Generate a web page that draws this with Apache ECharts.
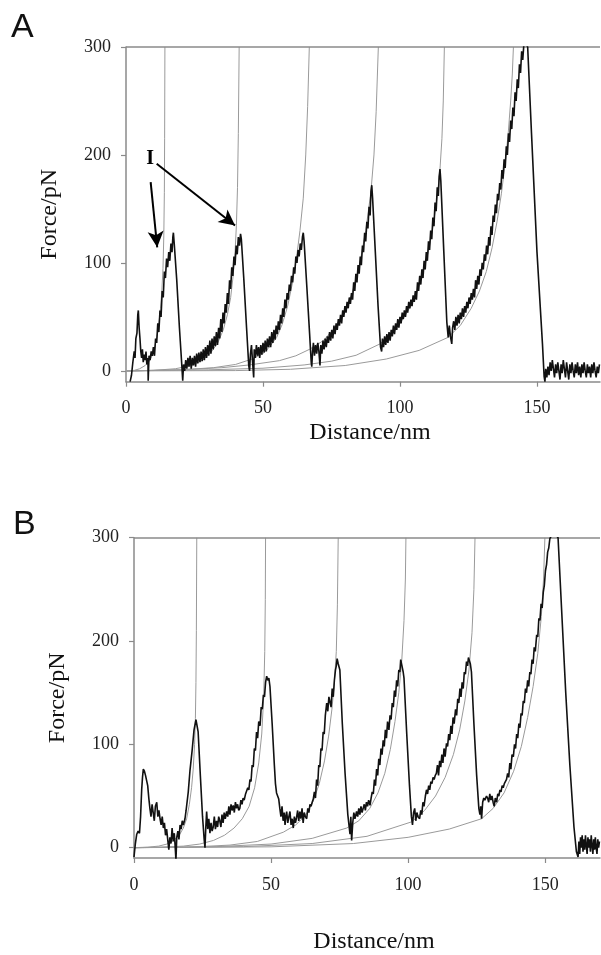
<!DOCTYPE html>
<html><head><meta charset="utf-8">
<script src="https://cdn.jsdelivr.net/npm/echarts@6/dist/echarts.min.js"></script>
<style>html,body{margin:0;padding:0;background:#fff}#c{width:601px;height:955px}</style>
</head><body><div id="c"></div>
<script>
// ---------- shared tick labels ----------
const xTicks = [0, 50, 100, 150];
const yTicks = [0, 100, 200, 300];

// ---------- Panel A data ----------
const traceA = [
[1.5,-10],[2,-4],[2.5,8],[3,18],[3.3,12],[3.6,30],[4,35],[4.3,52],[4.5,56],[4.8,40],[5.1,30],[5.4,18],[5.7,12],[6,20],[6.3,8],[6.6,15],[7,10],[7.3,18],[7.6,6],[8,12],[8.1,-9],[8.4,14],[8.8,10],[9.2,18],[9.6,14],
[10,22],[10.4,14],[10.8,30],[11.2,26],[11.6,44],[12,36],[12.4,56],[12.8,50],[13.2,74],[13.6,68],[14,92],[14.4,86],[14.8,104],[15.2,96],[15.6,110],[16,102],[16.4,118],[16.8,110],[17.1,124],[17.3,128],[17.6,118],
[18.5,85],[19.5,40],[20.3,8],[20.7,-9],[21,6],[21.4,0],[21.8,10],[22.2,2],[22.6,12],[23,4],[23.4,14],[23.8,2],[24.2,12],[24.6,5],[25,14],[25.4,4],[25.8,16],[26.2,7],[26.6,17],[27,8],[27.4,18],[27.8,9],[28.2,20],[28.6,10],[29,22],[29.4,12],[29.8,24],[30.2,14],[30.6,28],[31,16],[31.4,30],[31.8,20],[32.2,32],[32.6,23],
[33,36],[33.4,24],[33.8,40],[34.2,30],[34.6,48],[35,36],[35.4,54],[35.8,44],[36.2,62],[36.6,54],[37,72],[37.4,62],[37.8,84],[38.2,76],[38.6,96],[39,88],[39.4,106],[39.8,98],[40.2,116],[40.6,108],[41,124],[41.4,116],[41.8,127],[42.1,122],
[43,85],[44,40],[44.8,5],[45.1,0],[45.4,15],[45.8,24],[46.2,8],[46.6,-6],[46.8,20],[47.2,12],[47.6,24],[48,14],[48.4,22],[48.8,12],[49.2,24],[49.6,15],[50,26],[50.4,17],[50.8,28],[51.2,18],[51.6,30],[52,22],
[52.4,32],[52.8,22],[53.2,36],[53.6,26],[54,38],[54.4,29],[54.8,42],[55.2,34],[55.6,46],[56,38],[56.4,52],[56.8,44],[57.2,58],[57.6,50],[58,66],[58.4,58],[58.8,72],[59.2,66],[59.6,80],[60,74],[60.4,88],[60.8,82],[61.2,96],[61.6,90],[62,106],[62.4,100],[62.8,112],[63.2,106],[63.6,118],[64,112],[64.4,124],[64.7,128],[65,120],
[66,78],[67,35],[67.6,8],[67.8,4],[68.1,18],[68.4,26],[68.8,14],[69.2,24],[69.6,16],[70,26],[70.4,18],[70.8,5],[71.1,24],[71.5,16],[71.9,28],[72.3,20],[72.7,30],[73.1,22],[73.5,32],[73.9,26],[74.3,36],[74.7,28],[75.1,38],[75.5,30],[75.9,42],[76.3,34],[76.7,44],[77.1,38],[77.5,48],[77.9,42],[78.3,52],[78.7,44],[79.1,56],[79.5,50],[79.9,60],[80.3,54],[80.7,64],[81.1,58],[81.5,68],[81.9,62],
[82.3,72],[82.7,66],[83.1,82],[83.5,74],[83.9,90],[84.3,82],[84.7,98],[85.1,90],[85.5,106],[85.9,98],[86.3,116],[86.7,110],[87.1,128],[87.5,120],[87.9,138],[88.3,132],[88.7,152],[89.1,144],[89.4,166],[89.7,172],[90,160],
[91,110],[92,60],[92.9,22],[93.3,18],[93.6,30],[94,22],[94.4,32],[94.8,24],[95.2,34],[95.6,26],[96,36],[96.4,28],[96.8,38],[97.2,32],[97.6,42],[98,34],[98.4,44],[98.8,38],[99.2,48],[99.6,40],[100,50],[100.4,44],[100.8,54],[101.2,48],[101.6,56],[102,50],[102.4,60],[102.8,54],[103.2,64],[103.6,58],[104,66],[104.4,60],[104.8,70],[105.2,64],
[105.6,74],[106,66],[106.4,82],[106.8,74],[107.2,88],[107.6,80],[108,94],[108.4,86],[108.8,102],[109.2,94],[109.6,110],[110,102],[110.4,120],[110.8,112],[111.2,130],[111.6,122],[112,142],[112.4,134],[112.8,156],[113.2,148],[113.6,170],[114,162],[114.3,180],[114.6,187],[114.9,176],
[116,110],[117.1,45],[117.6,31],[118,42],[118.4,32],[118.9,25],[119.2,40],[119.6,46],[120,38],[120.4,50],[120.8,42],[121.2,52],[121.6,44],[122,54],[122.4,48],[122.8,58],[123.2,50],[123.6,60],[124,54],[124.4,64],[124.8,58],[125.2,68],[125.6,62],[126,72],[126.4,66],
[126.8,76],[127.2,68],[127.6,84],[128,76],[128.4,88],[128.8,80],[129.2,94],[129.6,88],[130,100],[130.4,94],[130.8,108],[131.2,102],[131.6,116],[132,108],[132.4,124],[132.8,116],[133.2,134],[133.6,126],[134,144],[134.4,138],[134.8,154],[135.2,146],[135.6,164],[136,158],[136.4,174],[136.8,168],[137.2,186],[137.6,178],[138,196],[138.4,188],[138.8,208],[139.2,200],[139.6,220],[140,212],[140.4,232],[140.8,224],[141.2,244],[141.6,236],[142,258],[142.4,250],[142.8,270],[143.2,262],[143.6,284],[144,276],[144.4,296],[144.8,288],[145.2,302],[145.6,305],[146,306],[146.6,300],
[148,220],[150,110],[152,25],[152.6,-5],[152.9,-10],[153.2,2],[153.6,-6],[154,4],[154.4,-4],[154.8,8],[155.2,0],[155.6,10],[156,2],[156.4,-6],[156.8,6],[157.2,-2],[157.6,8],[158,0],[158.4,-8],[158.8,6],[159.2,-2],[159.6,10],[160,2],[160.4,-6],[160.8,8],[161.2,0],[161.6,-8],[162,6],[162.4,-2],[162.8,8],[163.2,0],[163.6,-6],[164,6],[164.4,-2],[164.8,8],[165.2,-4],[165.6,4],[166,-6],[166.4,6],[166.8,-2],[167.2,8],[167.6,0],[168,-6],[168.4,6],[168.8,-2],[169.2,4],[169.6,-6],[170,6],[170.4,-2],[170.8,8],[171.2,0],[171.6,-6],[172,4],[172.4,-2],[172.8,6]
];
const fitA1 = [[0,0],[3,0.5],[5,2],[7,5],[8.5,9],[9.5,14],[10.5,22],[11.3,32],[12,44],[12.6,58],[13.1,75],[13.5,95],[13.8,125],[14,165],[14.1,215],[14.2,300]];
const fitA2 = [[0,0],[10,0.5],[18,2],[24,5],[28,10],[31,17],[33.5,26],[35.5,38],[37,52],[38.2,68],[39.1,88],[39.8,110],[40.3,135],[40.7,170],[41,220],[41.3,300]];
const fitA3 = [[0,0],[20,1],[32,3],[40,6],[46,11],[50,16],[52,21],[55,31],[57,43],[59,60],[60.8,82],[62.3,106],[63.5,130],[64.7,160],[65.6,200],[66.3,245],[66.9,300]];
const fitA4 = [[0,0],[20,1],[35,3],[45,5.5],[56,9.5],[62,14],[67,20],[72,28],[76.3,40],[79.1,53],[82.3,70],[85.1,96],[87.5,130],[89.4,166],[90.5,200],[91.3,240],[92.1,300]];
const fitA5 = [[0,0],[30,1],[50,2.5],[65,5.5],[75,9],[84,14.5],[92.7,25],[97,34],[100,44],[103,56],[106,72],[108.5,92],[110.5,112],[112.2,136],[113.6,162],[114.6,187],[115.3,215],[115.8,250],[116.2,300]];
const fitA6 = [[0,0],[40,0.3],[60,1.5],[80,5],[95,11],[107,19],[117.5,31],[122,42],[126,58],[129,74],[131.5,92],[133.6,114],[135.4,138],[137,164],[138.4,192],[139.5,220],[140.4,250],[141,275],[141.4,300]];
const arrowsA = [[[9.0,174.8],[11.4,114.5]], [[11.2,191.9],[39.8,134.6]]];
const labelA = {text: 'I', at: [8.8, 196.8]};

// ---------- Panel B data ----------
const traceB = [
[0,-9],[0.5,4],[1,13],[1.5,16],[2,14],[2.4,30],[2.8,56],[3.1,68],[3.4,76],[3.8,74],[4.2,70],[4.6,71],[5,60],[5.4,48],[5.8,38],[6.2,30],[6.6,42],[7,34],[7.4,26],[7.8,40],[8.3,44],[8.7,30],[9.1,36],[9.5,28],[9.9,22],[10.3,30],[10.7,19],[11.1,24],[11.5,12],[11.9,18],[12.3,8],[12.7,-2],[13.1,10],[13.5,4],[13.9,19],[14.3,6],[14.7,14],[15,2],[15.3,-12],[15.6,10],[16,16],[16.4,8],[16.8,22],[17.2,18],[17.6,26],[18,22],
[18.6,28],[19,36],[19.4,36],[19.8,54],[20.1,54],[20.4,74],[20.8,74],[21.2,94],[21.6,94],[21.9,114],[22.2,114],[22.6,124],[23,118],[23.4,112],
[24.2,70],[25,30],[25.6,8],[25.9,0],[26.2,20],[26.5,35],[26.9,18],[27.3,28],[27.7,14],[28.1,24],[28.5,16],[28.9,20],[29.3,30],[29.7,18],[30.1,26],[30.5,20],[30.9,30],[31.3,26],[31.7,20],[32.1,32],[32.5,24],[32.9,34],[33.3,28],[33.8,35],[34.2,30],[34.6,40],[35,32],[35.4,42],[35.8,36],[36.2,41],[36.6,34],[37,44],[37.4,38],[37.8,42],[38.2,36],[38.6,38],[39,46],[39.4,42],[39.8,48],[40.2,46],[40.7,52],[41.1,53],[41.5,58],[41.9,56],
[42.3,66],[42.7,64],[43.1,80],[43.5,78],[43.9,96],[44.3,94],[44.7,112],[45.1,106],[45.5,122],[46,118],[46.4,136],[46.8,134],[47.2,148],[47.6,146],[48,160],[48.4,166],[48.8,162],[49.2,164],[49.6,156],
[50.4,120],[51.2,80],[51.6,62],[52,53],[52.4,50],[52.8,47],[53.2,38],[53.6,30],[54,40],[54.4,26],[54.8,34],[55.1,22],[55.4,30],[55.7,35],[56.1,24],[56.5,30],[56.9,35],[57.3,22],[57.7,28],[58.1,19],[58.5,30],[58.9,24],[59.3,29],[59.7,36],[60.1,26],[60.5,35],[60.9,28],[61.3,38],[61.7,24],[62.1,34],[62.5,30],[63,28],[63.4,38],[63.8,34],[64.2,42],[64.6,40],[65,44],[65.4,47],
[65.8,54],[66.2,48],[66.6,66],[67,60],[67.4,80],[67.8,78],[68.2,96],[68.6,94],[69,112],[69.4,110],[69.8,128],[70.3,140],[70.7,132],[71.1,146],[71.5,146],[71.9,136],[72.3,154],[72.7,146],[73.1,162],[73.5,172],[73.8,176],[74.1,183],[74.5,178],[75.1,172],
[76,120],[77,72],[78,32],[78.8,13],[79.1,30],[79.4,7],[79.8,24],[80.2,34],[80.6,28],[81.2,35],[81.6,30],[82,38],[82.4,32],[82.8,40],[83.2,34],[83.6,38],[84,42],[84.4,36],[84.8,44],[85.2,40],[85.6,46],[86.1,41],[86.5,48],
[86.9,54],[87.3,52],[87.7,66],[88.1,60],[88.5,76],[88.9,70],[89.3,86],[89.7,80],[90.1,96],[90.5,90],[90.9,104],[91.3,98],[91.7,114],[92.1,106],[92.5,122],[93,114],[93.4,128],[93.8,124],[94.2,140],[94.6,136],[95,152],[95.4,146],[95.8,162],[96.2,156],[96.6,172],[97,170],[97.3,182],[97.6,183],[97.9,174],[98.2,170],[98.5,164],
[99.5,110],[100.5,60],[101.2,30],[101.6,22],[102,34],[102.4,38],[102.8,26],[103.2,34],[103.6,30],[104.2,28],[104.6,36],[105,32],[105.4,44],[105.8,40],[106.3,50],[106.7,56],[107.1,52],[107.5,60],[107.9,56],[108.3,64],[108.7,62],[109.1,68],[109.5,66],[109.9,70],
[110.3,72],[110.7,80],[111.1,70],[111.5,84],[111.9,78],[112.3,90],[112.7,82],[113.1,96],[113.5,88],[114,101],[114.4,98],[114.8,110],[115.2,104],[115.6,118],[116,110],[116.4,126],[116.8,120],[117.3,134],[117.7,128],[118.1,144],[118.5,140],[118.9,154],[119.3,146],[119.7,160],[120.1,154],[120.5,170],[120.9,168],[121.3,180],[121.7,176],[122,184],[122.3,185],[122.7,178],[123.1,170],
[124,120],[125,70],[125.8,38],[126.2,32],[126.5,40],[126.8,28],[127.2,44],[127.6,48],[128,46],[128.6,50],[129,48],[129.4,44],[129.8,52],[130.2,46],[130.6,50],[131,44],[131.4,40],[131.8,48],[132.3,44],[132.7,52],[133.1,50],[133.5,56],[133.9,54],[134.3,60],[134.7,58],[135.1,62],[135.5,62],[135.9,66],
[136.3,72],[136.7,68],[137.1,82],[137.5,76],[137.9,90],[138.4,88],[138.8,100],[139.2,96],[139.6,110],[140,106],[140.4,120],[140.8,116],[141.2,130],[141.6,128],[142,142],[142.4,140],[142.8,154],[143.2,150],[143.6,162],[144,156],[144.4,170],[144.8,168],[145.2,182],[145.6,178],[146,194],[146.4,190],[146.9,206],[147.3,204],[147.7,222],[148.1,220],[148.5,236],[148.9,232],[149.3,247],[149.7,254],[150.1,268],[150.5,274],[150.9,286],[151.3,290],[151.7,299],[152.3,302],[153,304],[153.8,303],[154.7,300],
[156,230],[157.5,150],[159,80],[160.5,20],[161.4,-4],[162,-9],[162.3,6],[162.6,-6],[162.9,10],[163.2,0],[163.5,12],[163.8,-4],[164.1,8],[164.4,-2],[164.7,12],[165,2],[165.3,-6],[165.6,10],[165.9,0],[166.2,8],[166.5,-4],[166.8,12],[167.1,2],[167.4,-6],[167.7,8],[168,-2],[168.3,10],[168.6,0],[168.9,-6],[169.2,8],[169.5,0],[169.8,6]
];
const fitB1 = [[0,0],[5,0.5],[9,1.5],[12,3.5],[14.5,7],[16.5,12],[18,19],[19.2,28],[20.2,42],[21,58],[21.6,76],[22.1,100],[22.4,125],[22.6,160],[22.75,210],[22.9,300]];
const fitB2 = [[0,0],[10,0.5],[18,1.5],[24,3.5],[29,7],[33,12],[36.5,19],[39.5,28],[42,40],[44,58],[45.5,82],[46.6,110],[47.3,145],[47.7,190],[47.9,240],[48,300]];
const fitB3 = [[0,0],[20,0.5],[35,2.5],[45,6],[54.5,15],[59,22],[62.5,31],[65.4,45],[67.6,62],[69.5,84],[71,108],[72.2,134],[73.1,160],[73.8,190],[74.2,235],[74.5,300]];
const fitB4 = [[0,0],[30,1],[50,3.5],[65,9],[77.6,19],[82,26],[86,38],[89,53],[91.5,72],[93.5,95],[95.2,122],[96.6,150],[97.7,182],[98.5,220],[99,260],[99.2,300]];
const fitB5 = [[0,0],[40,1],[65,4],[85,11],[101.3,25],[106,36],[110,50],[113.5,68],[116.5,90],[118.8,114],[120.7,142],[122.2,172],[123.3,208],[124,250],[124.4,300]];
const fitB6 = [[0,0],[50,0.8],[80,4],[100,10],[115,18],[126.8,28],[131,38],[135,53],[138.5,74],[141.3,98],[143.6,126],[145.6,156],[147.3,188],[148.6,224],[149.4,260],[149.9,300]];

const axisName = {x: 'Distance/nm', y: 'Force/pN'};
const panelLetters = ['A', 'B'];

// ---------- chart ----------
const SERIF = '"Liberation Serif", "Times New Roman", serif';
const axisGray = '#8a8a8a';
function xAx(grid, max, gap, shift) {
  return {
    type: 'value', gridIndex: grid, min: 0, max: max,
    name: axisName.x, nameLocation: 'middle', nameGap: gap,
    nameTextStyle: {fontFamily: SERIF, fontSize: 24, color: '#111', padding: [0, 0, 0, shift * 2]},
    axisLine: {onZero: false, lineStyle: {color: axisGray, width: 1.5}},
    axisTick: {show: true, inside: false, length: 5, customValues: xTicks, lineStyle: {color: axisGray, width: 1.2}},
    axisLabel: {customValues: xTicks, margin: 18, fontFamily: SERIF, fontSize: 18, color: '#222'},
    splitLine: {show: false}
  };
}
function yAx(grid) {
  return {
    type: 'value', gridIndex: grid, min: -10, max: 300,
    name: axisName.y, nameLocation: 'middle', nameGap: 64, nameRotate: 90,
    nameTextStyle: {fontFamily: SERIF, fontSize: 24, color: '#111'},
    axisLine: {show: true, onZero: false, lineStyle: {color: axisGray, width: 1.5}},
    axisTick: {show: true, inside: false, length: 5, customValues: yTicks, lineStyle: {color: axisGray, width: 1.2}},
    axisLabel: {customValues: yTicks, margin: 15, fontFamily: SERIF, fontSize: 18, color: '#222'},
    splitLine: {show: false}
  };
}
function traceSeries(data, idx, extra) {
  return Object.assign({
    type: 'line', xAxisIndex: idx, yAxisIndex: idx, data: data, showSymbol: false,
    lineStyle: {color: '#111', width: 1.6}, z: 5, animation: false, clip: true
  }, extra || {});
}
function fitSeries(data, idx) {
  return {
    type: 'line', xAxisIndex: idx, yAxisIndex: idx, data: data, showSymbol: false,
    lineStyle: {color: '#9a9a9a', width: 1}, z: 3, animation: false, clip: true
  };
}
const topLineB = {
  silent: true, symbol: 'none', label: {show: false}, animation: false,
  lineStyle: {color: axisGray, width: 1.5, type: 'solid'},
  data: [{yAxis: 300}]
};

const option = {
  animation: false,
  backgroundColor: '#fff',
  grid: [
    {left: 126, top: 47, width: 474, height: 334.7},
    {left: 134, top: 537.7, width: 466, height: 334.6}
  ],
  xAxis: [xAx(0, 173, 39, 7), xAx(1, 170, 72, 7)],
  yAxis: [yAx(0), yAx(1)],
  graphic: [
    {type: 'text', left: 11, top: 11, style: {text: panelLetters[0], font: '34px "Liberation Sans", Arial, sans-serif', fill: '#111'}},
    {type: 'text', left: 13, top: 508, style: {text: panelLetters[1], font: '34px "Liberation Sans", Arial, sans-serif', fill: '#111'}}
  ],
  series: [
    fitSeries(fitA1, 0), fitSeries(fitA2, 0), fitSeries(fitA3, 0),
    fitSeries(fitA4, 0), fitSeries(fitA5, 0), fitSeries(fitA6, 0),
    traceSeries(traceA, 0, {
      markLine: {
        silent: true, animation: false,
        data: [
          [{coord: [0, 300], symbol: 'none', lineStyle: {color: axisGray, width: 1.5}}, {coord: [173, 300], symbol: 'none'}],
          [{coord: arrowsA[0][0], symbol: 'none'}, {coord: arrowsA[0][1], symbol: 'arrow', symbolSize: [12, 16]}],
          [{coord: arrowsA[1][0], symbol: 'none'}, {coord: arrowsA[1][1], symbol: 'arrow', symbolSize: [12, 16]}]
        ],
        label: {show: false},
        lineStyle: {color: '#000', width: 2, type: 'solid'}
      },
      markPoint: {
        silent: true, animation: false, symbol: 'circle', symbolSize: 0,
        data: [{coord: labelA.at, value: labelA.text}],
        label: {show: true, formatter: labelA.text, position: 'inside', fontFamily: SERIF, fontWeight: 'bold', fontSize: 20, color: '#000'}
      }
    }),
    fitSeries(fitB1, 1), fitSeries(fitB2, 1), fitSeries(fitB3, 1),
    fitSeries(fitB4, 1), fitSeries(fitB5, 1), fitSeries(fitB6, 1),
    traceSeries(traceB, 1, {markLine: topLineB})
  ]
};
const chart = echarts.init(document.getElementById('c'), null, {renderer: 'canvas'});
chart.setOption(option);
</script></body></html>
